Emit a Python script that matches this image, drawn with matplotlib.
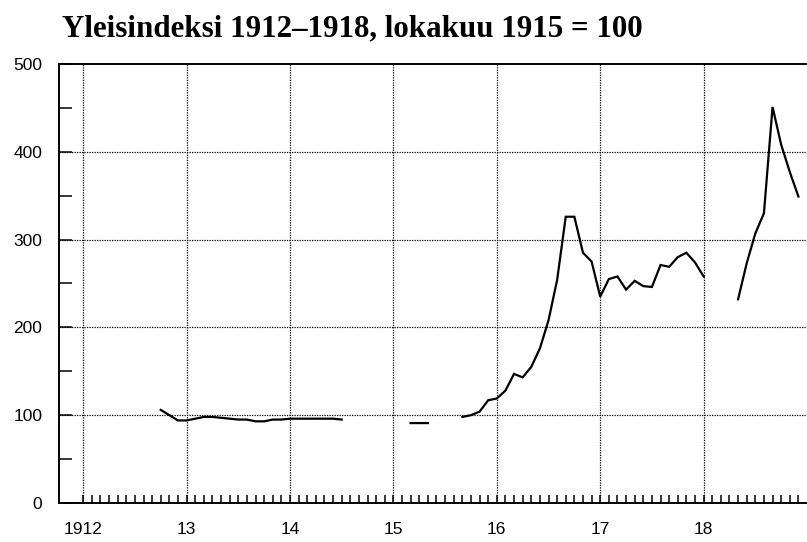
import numpy as np
import matplotlib.pyplot as plt
from matplotlib.ticker import FixedLocator, MultipleLocator

TITLE = "Yleisindeksi 1912\u20131918, lokakuu 1915 = 100"

# monthly index values, first value = October 1912, NaN = no data
START_YEAR = 1912
START_MONTH = 9  # months after January 1912
VALUES = [
    106, 100, 94,                                          # 1912 Oct-Dec
    94, 96, 98, 98, 97, 96, 95, 95, 93, 93, 95, 95,        # 1913
    96, 96, 96, 96, 96, 96, 95, np.nan, np.nan, np.nan, np.nan, np.nan,  # 1914
    np.nan, np.nan, 91, 91, 91, np.nan, np.nan, np.nan, 98, 100, 104, 117,  # 1915
    119, 128, 147, 143, 155, 176, 208, 254, 326, 326, 285, 275,  # 1916
    235, 255, 258, 243, 253, 247, 246, 271, 269, 280, 285, 274,  # 1917
    258, np.nan, np.nan, np.nan, 232, 273, 307, 330, 451, 408, 377, 349,  # 1918
]
YEAR_TICKS = [1912, 1913, 1914, 1915, 1916, 1917, 1918]
YEAR_LABELS = ["1912", "13", "14", "15", "16", "17", "18"]
Y_TICKS = [0, 100, 200, 300, 400, 500]


def main() -> None:
    x = START_YEAR + (START_MONTH + np.arange(len(VALUES))) / 12.0
    y = np.array(VALUES, dtype=float)

    fig = plt.figure(figsize=(8.07, 5.42), dpi=100)
    ax = fig.add_axes([0.0731, 0.072, 0.935, 0.810])

    ax.plot(x, y, color="black", linewidth=1.6, solid_joinstyle="miter")

    ax.set_xlim(1911.766, 1919.063)
    ax.set_ylim(0, 500)

    for yr in YEAR_TICKS:
        ax.axvline(yr, color="black", linestyle=(0, (1, 1)), linewidth=0.9, zorder=0)
    for v in Y_TICKS[1:-1]:
        ax.axhline(v, color="black", linestyle=(0, (1, 1)), linewidth=0.9, zorder=0)

    ax.spines["right"].set_visible(False)
    for side in ("left", "bottom", "top"):
        ax.spines[side].set_linewidth(1.4)

    ax.set_xticks(YEAR_TICKS)
    ax.set_xticklabels(YEAR_LABELS)
    ax.xaxis.set_minor_locator(FixedLocator([START_YEAR + m / 12.0 for m in range(84)]))
    ax.set_yticks(Y_TICKS)
    ax.yaxis.set_minor_locator(MultipleLocator(50))

    ax.tick_params(axis="x", which="both", direction="in", length=6, width=1.1,
                   pad=14, labelsize=12.5)
    ax.tick_params(axis="y", which="both", direction="in", length=9, width=1.1,
                   pad=12, labelsize=12.5)
    for lab in ax.get_xticklabels() + ax.get_yticklabels():
        lab.set_family("Liberation Sans")

    fig.text(0.077, 0.947, TITLE, family="Liberation Serif", fontweight="bold",
             fontsize=22.3, ha="left", va="center")

    fig.savefig("out.png", dpi=100)
    plt.close(fig)


if __name__ == "__main__":
    main()
